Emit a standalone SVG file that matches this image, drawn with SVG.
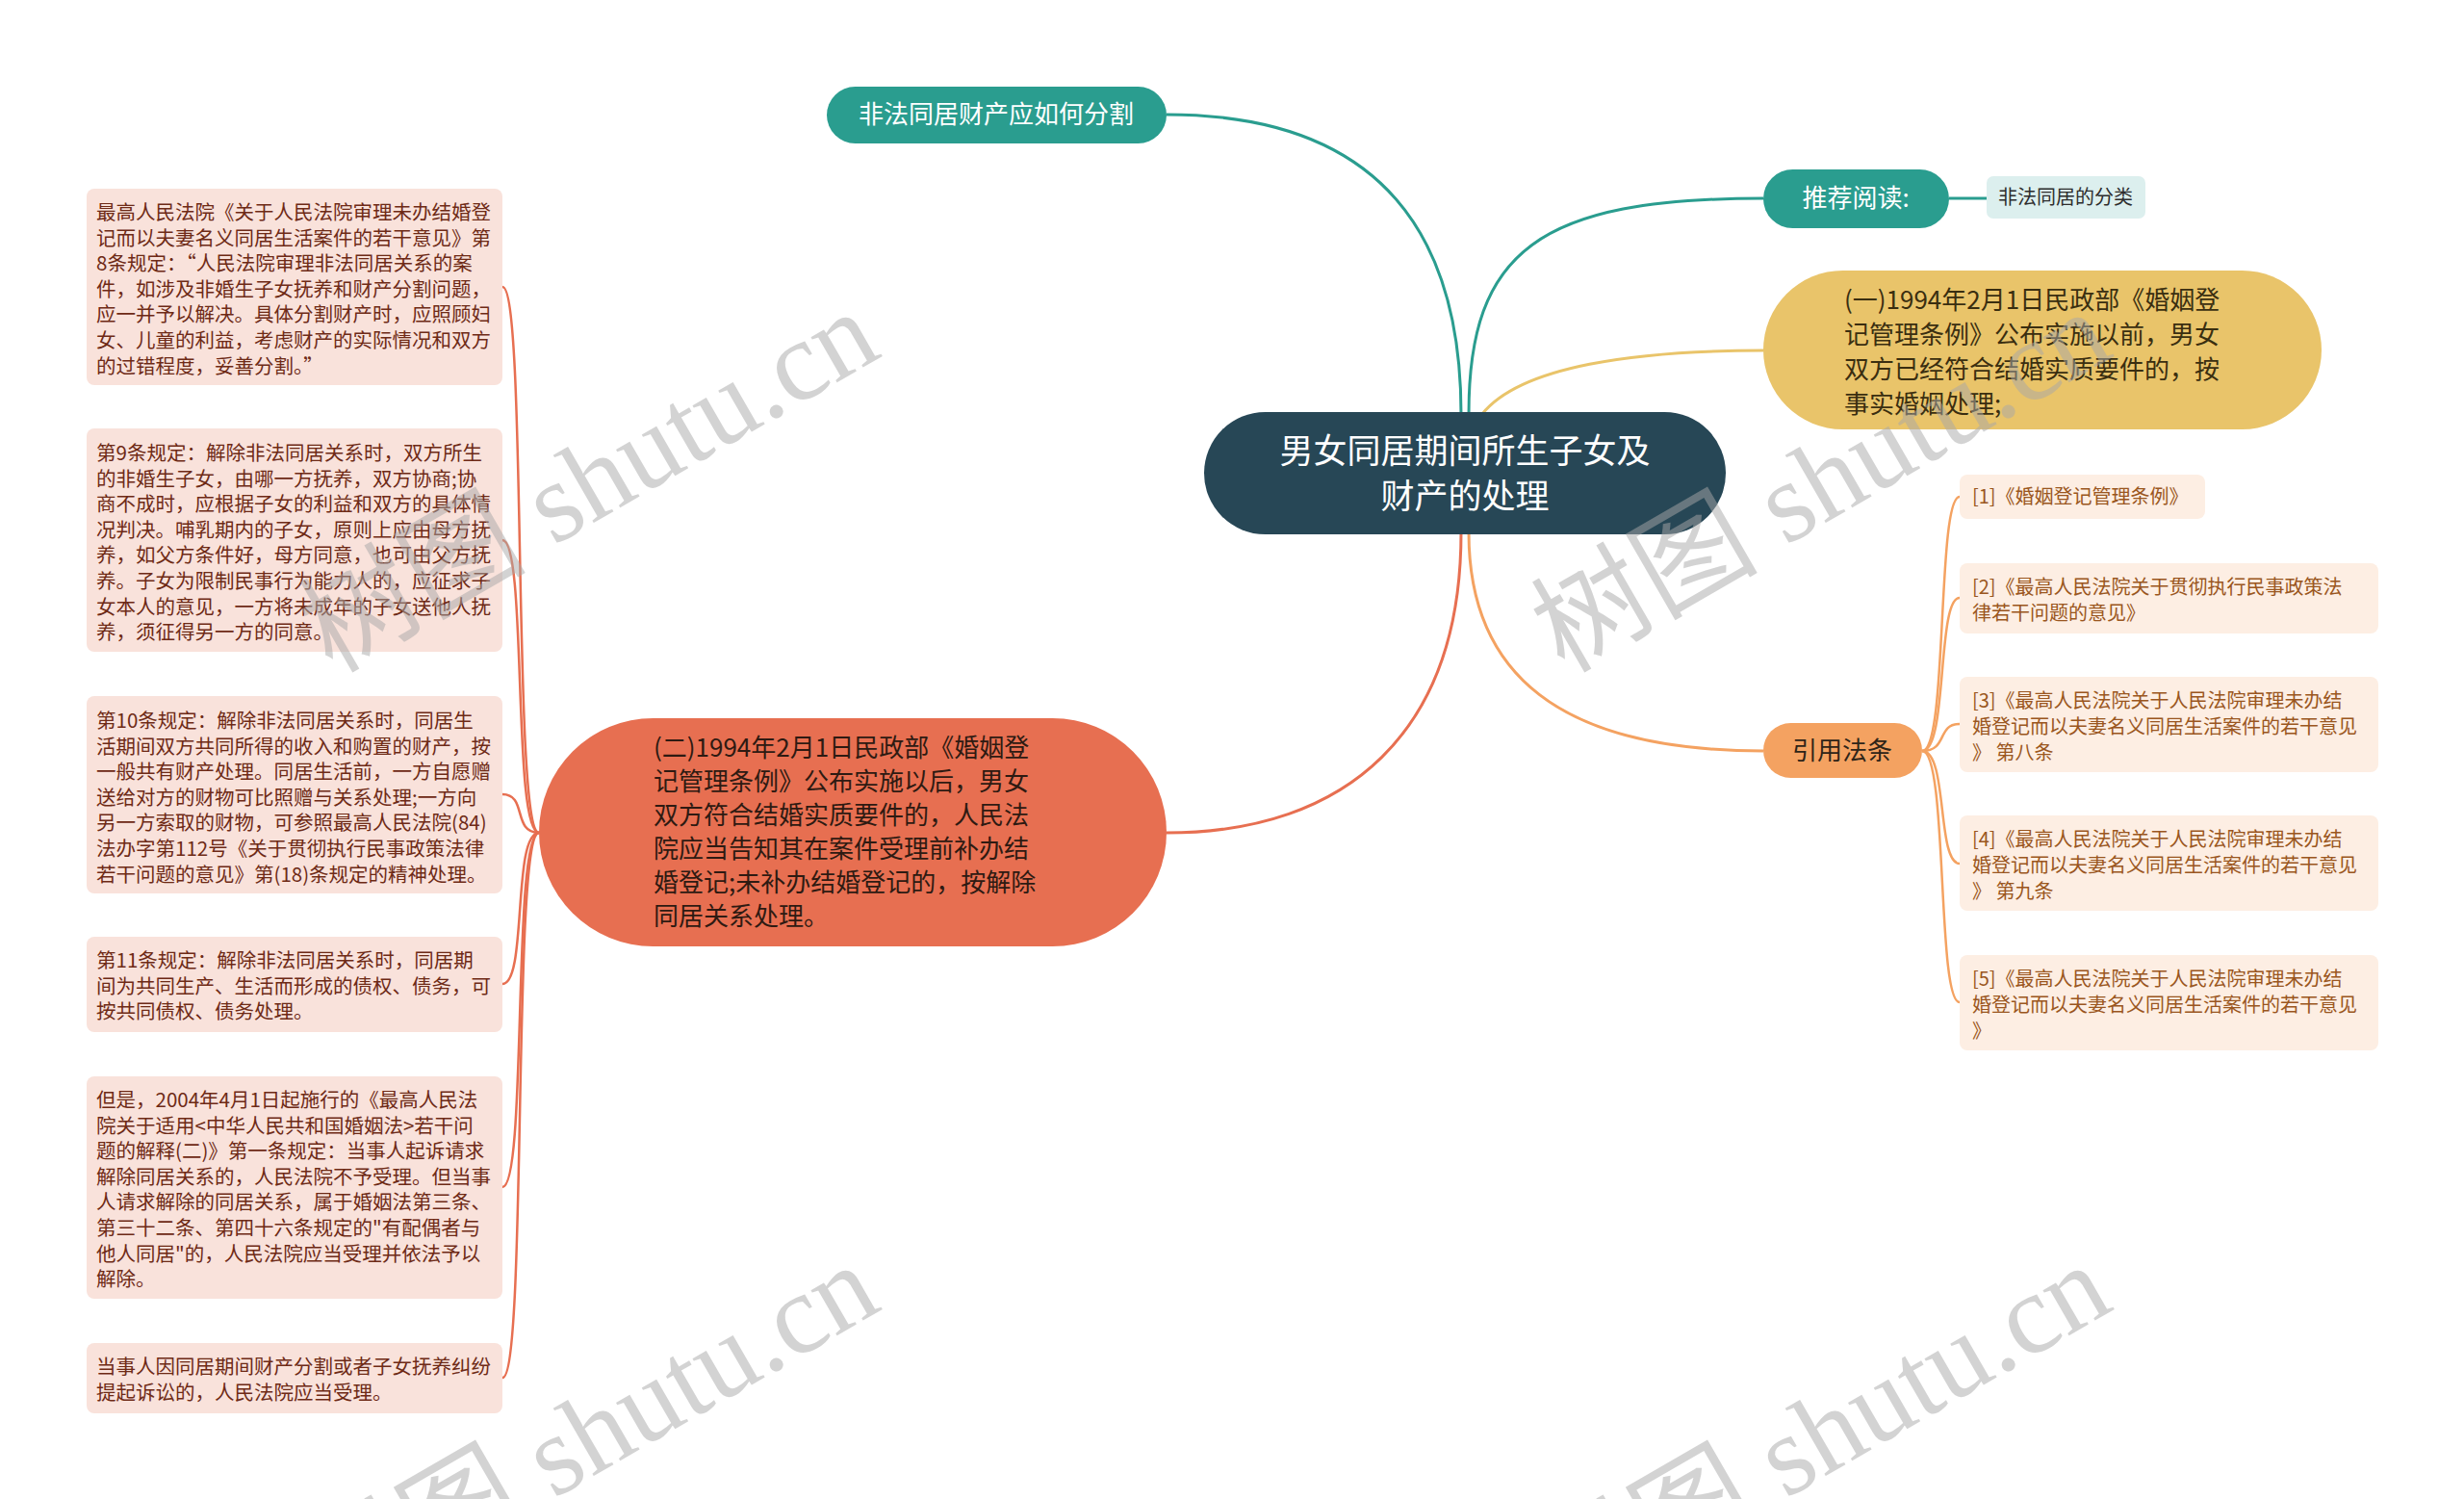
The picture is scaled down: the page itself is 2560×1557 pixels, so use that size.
<svg xmlns="http://www.w3.org/2000/svg" width="2560" height="1557" viewBox="0 0 2560 1557">
<style>
text{font-family:"Noto Sans CJK SC","Noto Sans",sans-serif}
.lb{fill:#f9e2db}
.lt{font-size:20.5px;fill:#6e2a16}
.rb{fill:#fdeee3}
.rt{font-size:20px;fill:#9a5620}
.c{fill:none;stroke-width:3}
.cs{fill:none;stroke-width:2.5}
.wm{font-family:"Liberation Serif","Noto Sans CJK SC",serif;font-size:118px;fill:#a8a8a8;opacity:0.5}
</style>
<rect width="2560" height="1557" fill="#ffffff"/>
<g id="connectors">
<path class="c" stroke="#2a9d8f" d="M1518,430 C1518,250 1440,119 1212,119"/>
<path class="c" stroke="#2a9d8f" d="M1526,430 C1526,260 1600,206 1832,206"/>
<path class="c" stroke="#2a9d8f" d="M2025,206 L2064,206"/>
<path class="c" stroke="#e9c46a" d="M1540,430 C1580,380 1700,364 1832,364"/>
<path class="c" stroke="#f4a261" d="M1526,553 C1526,700 1620,780 1832,780"/>
<path class="c" stroke="#e76f51" d="M1518,553 C1518,760 1400,865 1212,865"/>
<g stroke="#f4a261">
<path class="cs" d="M1997,780 C2024,780 2012,516 2036,516"/>
<path class="cs" d="M1997,780 C2024,780 2012,621 2036,621"/>
<path class="cs" d="M1997,780 C2024,780 2012,752 2036,752"/>
<path class="cs" d="M1997,780 C2024,780 2012,897 2036,897"/>
<path class="cs" d="M1997,780 C2024,780 2012,1041 2036,1041"/>
</g>
<g stroke="#e76f51">
<path class="cs" d="M560,865 C532,865 548,298 522,298"/>
<path class="cs" d="M560,865 C532,865 548,561 522,561"/>
<path class="cs" d="M560,865 C532,865 548,825 522,825"/>
<path class="cs" d="M560,865 C532,865 548,1022 522,1022"/>
<path class="cs" d="M560,865 C532,865 548,1233 522,1233"/>
<path class="cs" d="M560,865 C532,865 548,1431 522,1431"/>
</g>
</g>
<g id="center">
<rect x="1251" y="428" width="542" height="127" rx="63.5" fill="#274756"/>
<text x="1522" y="481" font-size="35" fill="#ffffff" text-anchor="middle">男女同居期间所生子女及</text>
<text x="1522" y="528" font-size="35" fill="#ffffff" text-anchor="middle">财产的处理</text>
</g>
<g id="n-split">
<rect x="859" y="90" width="353" height="59" rx="29.5" fill="#2a9d8f"/>
<text x="1035" y="128" font-size="26" fill="#ffffff" text-anchor="middle">非法同居财产应如何分割</text>
</g>
<g id="n-read">
<rect x="1832" y="176" width="193" height="61" rx="30.5" fill="#2a9d8f"/>
<text x="1928" y="215" font-size="26" fill="#ffffff" text-anchor="middle">推荐阅读:</text>
</g>
<g id="n-read1">
<rect x="2064" y="183" width="165" height="44" rx="7" fill="#dcefee"/>
<text x="2146" y="212" font-size="20" fill="#2d2d2d" text-anchor="middle">非法同居的分类</text>
</g>
<g id="n-before">
<rect x="1832" y="281" width="580" height="165" rx="82.5" fill="#e9c46a"/>
<text font-size="26" fill="#3a2e10"><tspan x="1916" y="321">(一)1994年2月1日民政部《婚姻登</tspan><tspan x="1916" y="357">记管理条例》公布实施以前，男女</tspan><tspan x="1916" y="393">双方已经符合结婚实质要件的，按</tspan><tspan x="1916" y="429">事实婚姻处理;</tspan></text>
</g>
<g id="n-law">
<rect x="1832" y="751" width="165" height="57" rx="28.5" fill="#f4a261"/>
<text x="1914" y="789" font-size="26" fill="#2e2418" text-anchor="middle">引用法条</text>
</g>
<g id="n-after">
<rect x="560" y="746" width="652" height="237" rx="118.5" fill="#e76f51"/>
<text font-size="26" fill="#2e1a12"><tspan x="679" y="786">(二)1994年2月1日民政部《婚姻登</tspan><tspan x="679" y="821">记管理条例》公布实施以后，男女</tspan><tspan x="679" y="856">双方符合结婚实质要件的，人民法</tspan><tspan x="679" y="891">院应当告知其在案件受理前补办结</tspan><tspan x="679" y="926">婚登记;未补办结婚登记的，按解除</tspan><tspan x="679" y="961">同居关系处理。</tspan></text>
</g>
<g id="r1">
<rect class="rb" x="2036" y="493" width="255" height="46" rx="8"/>
<text class="rt"><tspan x="2049" y="523">[1]《婚姻登记管理条例》</tspan></text>
</g>
<g id="r2">
<rect class="rb" x="2036" y="585" width="435" height="73" rx="8"/>
<text class="rt"><tspan x="2049" y="617">[2]《最高人民法院关于贯彻执行民事政策法</tspan><tspan x="2049" y="644">律若干问题的意见》</tspan></text>
</g>
<g id="r3">
<rect class="rb" x="2036" y="703" width="435" height="99" rx="8"/>
<text class="rt"><tspan x="2049" y="735">[3]《最高人民法院关于人民法院审理未办结</tspan><tspan x="2049" y="762">婚登记而以夫妻名义同居生活案件的若干意见</tspan><tspan x="2049" y="789">》 第八条</tspan></text>
</g>
<g id="r4">
<rect class="rb" x="2036" y="847" width="435" height="99" rx="8"/>
<text class="rt"><tspan x="2049" y="879">[4]《最高人民法院关于人民法院审理未办结</tspan><tspan x="2049" y="906">婚登记而以夫妻名义同居生活案件的若干意见</tspan><tspan x="2049" y="933">》 第九条</tspan></text>
</g>
<g id="r5">
<rect class="rb" x="2036" y="992" width="435" height="99" rx="8"/>
<text class="rt"><tspan x="2049" y="1024">[5]《最高人民法院关于人民法院审理未办结</tspan><tspan x="2049" y="1051">婚登记而以夫妻名义同居生活案件的若干意见</tspan><tspan x="2049" y="1078">》</tspan></text>
</g>
<g id="l1">
<rect class="lb" x="90" y="196" width="432" height="204" rx="8"/>
<text class="lt"><tspan x="100" y="228">最高人民法院《关于人民法院审理未办结婚登</tspan><tspan x="100" y="254.6">记而以夫妻名义同居生活案件的若干意见》第</tspan><tspan x="100" y="281.2">8条规定：“人民法院审理非法同居关系的案</tspan><tspan x="100" y="307.8">件，如涉及非婚生子女抚养和财产分割问题，</tspan><tspan x="100" y="334.4">应一并予以解决。具体分割财产时，应照顾妇</tspan><tspan x="100" y="361">女、儿童的利益，考虑财产的实际情况和双方</tspan><tspan x="100" y="387.6">的过错程度，妥善分割。”</tspan></text>
</g>
<g id="l2">
<rect class="lb" x="90" y="445" width="432" height="232" rx="8"/>
<text class="lt"><tspan x="100" y="478">第9条规定：解除非法同居关系时，双方所生</tspan><tspan x="100" y="504.6">的非婚生子女，由哪一方抚养，双方协商;协</tspan><tspan x="100" y="531.2">商不成时，应根据子女的利益和双方的具体情</tspan><tspan x="100" y="557.8">况判决。哺乳期内的子女，原则上应由母方抚</tspan><tspan x="100" y="584.4">养，如父方条件好，母方同意，也可由父方抚</tspan><tspan x="100" y="611">养。子女为限制民事行为能力人的，应征求子</tspan><tspan x="100" y="637.6">女本人的意见，一方将未成年的子女送他人抚</tspan><tspan x="100" y="664.2">养，须征得另一方的同意。</tspan></text>
</g>
<g id="l3">
<rect class="lb" x="90" y="723" width="432" height="205" rx="8"/>
<text class="lt"><tspan x="100" y="756">第10条规定：解除非法同居关系时，同居生</tspan><tspan x="100" y="782.6">活期间双方共同所得的收入和购置的财产，按</tspan><tspan x="100" y="809.2">一般共有财产处理。同居生活前，一方自愿赠</tspan><tspan x="100" y="835.8">送给对方的财物可比照赠与关系处理;一方向</tspan><tspan x="100" y="862.4">另一方索取的财物，可参照最高人民法院(84)</tspan><tspan x="100" y="889">法办字第112号《关于贯彻执行民事政策法律</tspan><tspan x="100" y="915.6">若干问题的意见》第(18)条规定的精神处理。</tspan></text>
</g>
<g id="l4">
<rect class="lb" x="90" y="973" width="432" height="99" rx="8"/>
<text class="lt"><tspan x="100" y="1005">第11条规定：解除非法同居关系时，同居期</tspan><tspan x="100" y="1031.6">间为共同生产、生活而形成的债权、债务，可</tspan><tspan x="100" y="1058.2">按共同债权、债务处理。</tspan></text>
</g>
<g id="l5">
<rect class="lb" x="90" y="1118" width="432" height="231" rx="8"/>
<text class="lt"><tspan x="100" y="1150">但是，2004年4月1日起施行的《最高人民法</tspan><tspan x="100" y="1176.6">院关于适用&lt;中华人民共和国婚姻法&gt;若干问</tspan><tspan x="100" y="1203.2">题的解释(二)》第一条规定：当事人起诉请求</tspan><tspan x="100" y="1229.8">解除同居关系的，人民法院不予受理。但当事</tspan><tspan x="100" y="1256.4">人请求解除的同居关系，属于婚姻法第三条、</tspan><tspan x="100" y="1283">第三十二条、第四十六条规定的"有配偶者与</tspan><tspan x="100" y="1309.6">他人同居"的，人民法院应当受理并依法予以</tspan><tspan x="100" y="1336.2">解除。</tspan></text>
</g>
<g id="l6">
<rect class="lb" x="90" y="1395" width="432" height="73" rx="8"/>
<text class="lt"><tspan x="100" y="1427">当事人因同居期间财产分割或者子女抚养纠纷</tspan><tspan x="100" y="1453.6">提起诉讼的，人民法院应当受理。</tspan></text>
</g>
<g id="wm">
<text class="wm" transform="translate(345,700) rotate(-30)">树图 shutu.cn</text>
<text class="wm" transform="translate(1625,700) rotate(-30)">树图 shutu.cn</text>
<text class="wm" transform="translate(345,1690) rotate(-30)">树图 shutu.cn</text>
<text class="wm" transform="translate(1625,1690) rotate(-30)">树图 shutu.cn</text>
</g>
</svg>
